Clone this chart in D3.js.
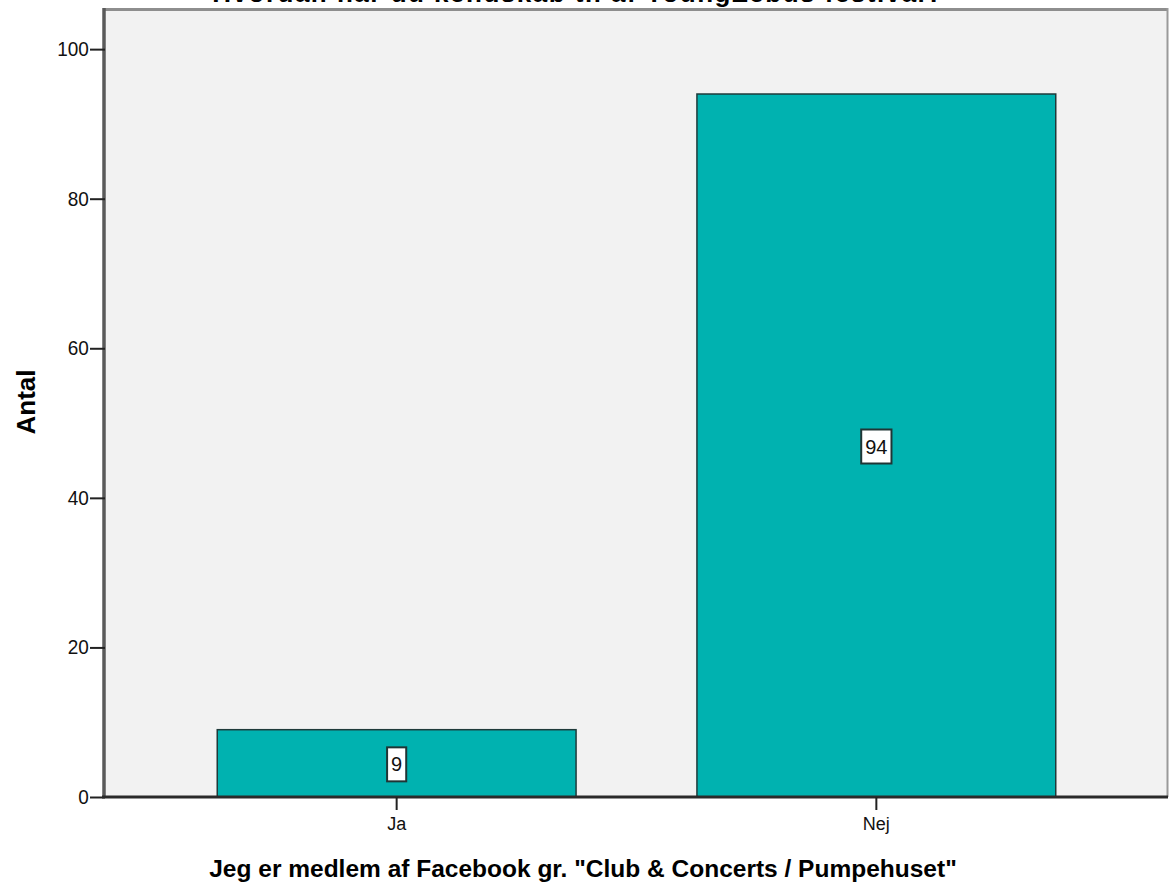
<!DOCTYPE html>
<html><head><meta charset="utf-8">
<script src="https://cdn.jsdelivr.net/npm/d3@7/dist/d3.min.js"></script>
<style>body{margin:0;background:#fff;} svg{display:block;font-family:Arial,"Liberation Sans",sans-serif;}</style>
</head><body>
<svg id="c" width="1170" height="891"></svg>
<script>
const categories = ["Ja", "Nej"];
const counts = [9, 94];
const yTicks = [0, 20, 40, 60, 80, 100];
const title = "Hvordan har du kendskab til af YoungZebus festival?";
const xTitle = 'Jeg er medlem af Facebook gr. "Club & Concerts / Pumpehuset"';
const yTitle = "Antal";

const FONT = "Arial, 'Liberation Sans', sans-serif";
const svg = d3.select("#c");
const L = 105, R = 1168, T = 8, B = 797;
const x = d3.scaleBand().domain(categories).range([L, R]).paddingInner(0.252).paddingOuter(0.234);
const y = d3.scaleLinear().domain([0, 105.5]).range([B, T]);

// plot background
svg.append("rect").attr("x", L).attr("y", T).attr("width", R - L).attr("height", B - T)
  .attr("fill", "#f2f2f2");
// top & right frame
svg.append("line").attr("x1", L).attr("x2", R).attr("y1", T + 1.5).attr("y2", T + 1.5)
  .attr("stroke", "#8e8e8e").attr("stroke-width", 3);
svg.append("line").attr("x1", R - 0.5).attr("x2", R - 0.5).attr("y1", T).attr("y2", B)
  .attr("stroke", "#9a9a9a").attr("stroke-width", 2);

// bars
svg.selectAll("rect.bar").data(categories).enter().append("rect").attr("class", "bar")
  .attr("x", d => x(d)).attr("width", x.bandwidth())
  .attr("y", (d, i) => y(counts[i])).attr("height", (d, i) => B - y(counts[i]))
  .attr("fill", "#00b2b0").attr("stroke", "#1f3a3a").attr("stroke-width", 1.5);

// y axis
const yAxis = d3.axisLeft(y).tickValues(yTicks).tickSize(15).tickPadding(2).tickFormat(d3.format("d"));
const gy = svg.append("g").attr("transform", `translate(${L},0)`).call(yAxis);
gy.select(".domain").attr("stroke", "#5a5a5a").attr("stroke-width", 3.5).attr("d", `M-1,${T}V${B}`);
gy.selectAll(".tick line").attr("stroke", "#222").attr("stroke-width", 2).attr("x2", -15);
gy.selectAll(".tick text").attr("font-size", 20).attr("fill", "#111").attr("font-family", FONT)
  .attr("transform", "scale(0.95,1)");

// x axis
const xAxis = d3.axisBottom(x).tickSize(13).tickPadding(7);
const gx = svg.append("g").attr("transform", `translate(0,${B})`).call(xAxis);
gx.select(".domain").attr("stroke", "#2a2a2a").attr("stroke-width", 3).attr("d", `M${L - 3},0H${R}`);
gx.selectAll(".tick line").attr("stroke", "#222").attr("stroke-width", 2);
gx.selectAll(".tick text").attr("font-size", 18).attr("fill", "#111").attr("font-family", FONT);

// value labels
categories.forEach((c, i) => {
  const cx = x(c) + x.bandwidth() / 2;
  const cy = y(counts[i] / 2) + 1;
  const g = svg.append("g");
  const t = g.append("text").attr("x", cx).attr("y", cy).attr("text-anchor", "middle")
    .attr("dominant-baseline", "central").attr("font-size", 20).attr("fill", "#111").text(counts[i]);
  const bb = t.node().getBBox();
  g.insert("rect", "text").attr("x", bb.x - 4).attr("y", cy - 17).attr("width", bb.width + 8).attr("height", 34)
    .attr("fill", "#fff").attr("stroke", "#1f3535").attr("stroke-width", 2);
});

// title (cut off at top)
svg.append("text").attr("x", 578).attr("y", 2).attr("text-anchor", "middle")
  .attr("font-size", 26).attr("font-weight", "bold").attr("letter-spacing", 1.5).attr("fill", "#000").text(title);

// axis titles
svg.append("text").attr("x", 583).attr("y", 877).attr("text-anchor", "middle")
  .attr("font-size", 24.5).attr("font-weight", "bold").attr("fill", "#000").text(xTitle);
svg.append("text").attr("transform", "translate(35,402) rotate(-90)").attr("text-anchor", "middle")
  .attr("font-size", 26).attr("font-weight", "bold").attr("fill", "#000").text(yTitle);
</script>
</body></html>
